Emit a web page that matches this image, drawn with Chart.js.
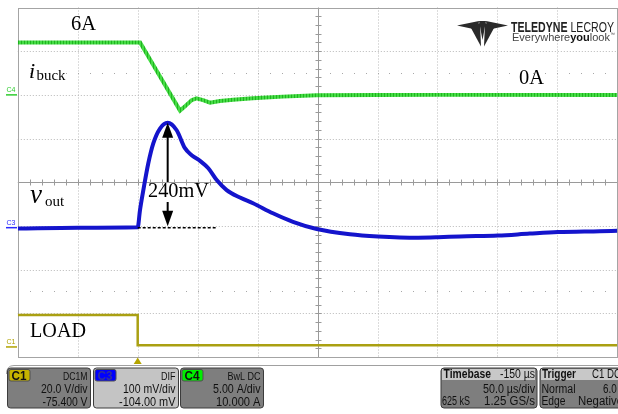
<!DOCTYPE html>
<html>
<head>
<meta charset="utf-8">
<script src="https://cdn.jsdelivr.net/npm/chart.js@4.4.1/dist/chart.umd.min.js"></script>
<style>
  html, body { margin: 0; padding: 0; background: #fff; overflow: hidden; }
  canvas { display: block; }
</style>
</head>
<body>
<canvas id="scope" width="618" height="414"></canvas>
<script>
// ---- Acquisition: 50 µs/div, 10 x 8 divisions, trigger at t = 0 ----
const timeDivUs = 50;
const timeStartUs = -100;
const hDivs = 10;
const vDivs = 8;

// C4: buck inductor current, A
const iBuckTimeUs = [-100, 2, 35.3, 39.5, 45, 49, 54.5, 60.3, 68.6, 79.5, 96, 121, 149, 200, 250, 400];
const iBuckAmps   = [6.0, 6.0, -1.8, -1.3, -0.6, -0.4, -0.6, -0.9, -0.7, -0.55, -0.38, -0.2, -0.05, -0.02, 0, 0];

// C3: output voltage deviation, mV
const voutTimeUs = [-100, -50, 0, 1.9, 4.7, 8.8, 13, 18.6, 25, 32.5, 39.4, 45, 52, 58.9, 65.9, 74.2, 85.3, 96.2,
                    112.8, 129.5, 149.3, 177, 200.4, 233.8, 250.5, 268.8, 300.5, 327, 350.5, 385.5, 400];
const voutMv     = [-2, 0, 1, 40, 86, 147, 193, 227, 240, 223, 182, 166, 153, 136, 109, 86, 69, 56,
                    33, 13.5, -3, -15, -20, -23, -22, -20, -18, -13.5, -10, -8, -7];

// C1: load step command, V
const loadTimeUs = [-100, 0, 0, 400];
const loadVolts  = [14.6, 14.6, 0.8, 0.8];

// Overshoot marker
const overshootMv = 240;
const overshootAtUs = 25;

// Channel settings (per-division scale and offset)
const c1Set = { scale: 20, offset: -75.4 };
const c3Set = { scale: 100, offset: -104 };
const c4Set = { scale: 5, offset: 10 };

// Readout text
const c1Info = ['DC1M', '20.0 V/div', '-75.400 V'];
const c3Info = ['DIF', '100 mV/div', '-104.00 mV'];
const c4Info = ['BwL DC', '5.00 A/div', '10.000 A'];
const timebaseInfo = ['Timebase', '-150 µs', '50.0 µs/div', '625 kS', '1.25 GS/s'];
const triggerInfo = ['Trigger', 'C1 DC', 'Normal', '6.0 V', 'Edge', 'Negative'];

function axisRange(set) {
  const centre = -set.offset;
  return { min: centre - set.scale * vDivs / 2, max: centre + set.scale * vDivs / 2 };
}
function pts(xs, ys) { return xs.map((x, i) => ({ x: x, y: ys[i] })); }

const SERIF = "'Liberation Serif', 'Times New Roman', serif";
const SANS = "'Liberation Sans', Arial, sans-serif";

// text with optional horizontal fit to a width
function put(ctx, s, x, y, o) {
  ctx.save();
  ctx.font = o.font;
  ctx.fillStyle = o.color || '#111';
  ctx.textAlign = 'left';
  ctx.textBaseline = 'alphabetic';
  const w = ctx.measureText(s).width;
  const k = o.width ? o.width / w : 1;
  let left = x;
  if (o.align === 'right') left = x - w * k;
  else if (o.align === 'center') left = x - w * k / 2;
  ctx.translate(left, y);
  ctx.scale(k, 1);
  ctx.fillText(s, 0, 0);
  ctx.restore();
}

function seg(ctx, x1, y1, x2, y2) {
  ctx.beginPath(); ctx.moveTo(x1, y1); ctx.lineTo(x2, y2); ctx.stroke();
}

// striped stroke that gives the switching-ripple texture on the current trace
function rippleStroke() {
  const c = document.createElement('canvas');
  c.width = 3; c.height = 1;
  const g = c.getContext('2d');
  g.fillStyle = '#1fb51f'; g.fillRect(0, 0, 1, 1);
  g.fillStyle = '#45dc45'; g.fillRect(1, 0, 2, 1);
  return g.createPattern(c, 'repeat');
}

// ---- graticule ----
const graticule = {
  id: 'graticule',
  beforeDraw(chart) {
    const ctx = chart.ctx;
    ctx.save();
    ctx.fillStyle = '#fff';
    ctx.fillRect(0, 0, chart.width, chart.height);
    ctx.restore();
  },
  beforeDatasetsDraw(chart) {
    const { ctx, chartArea: a, scales } = chart;
    const x = scales.x, d = scales.yDiv;
    const cx = Math.round(x.getPixelForValue(timeStartUs + timeDivUs * hDivs / 2)) + 0.5;
    const cy = Math.round(d.getPixelForValue(0)) + 0.5;
    ctx.save();
    ctx.lineWidth = 1;
    // dotted division lines
    ctx.strokeStyle = '#b8b8b8';
    ctx.setLineDash([1, 2]);
    for (let i = 1; i < hDivs; i++) {
      if (i === hDivs / 2) continue;
      const px = Math.round(x.getPixelForValue(timeStartUs + i * timeDivUs)) + 0.5;
      seg(ctx, px, a.top, px, a.bottom);
    }
    for (let j = -vDivs / 2 + 1; j < vDivs / 2; j++) {
      if (j === 0) continue;
      const py = Math.round(d.getPixelForValue(j)) + 0.5;
      seg(ctx, a.left, py, a.right, py);
    }
    ctx.setLineDash([]);
    // sparse dots at ±2.5 div
    ctx.fillStyle = '#a8a8a8';
    [2.5, -2.5].forEach(v => {
      const py = Math.round(d.getPixelForValue(v));
      for (let k = 1; k < hDivs * 5; k++) {
        const px = Math.round(x.getPixelForValue(timeStartUs + k * timeDivUs / 5));
        ctx.fillRect(px, py, 1, 1);
      }
    });
    // centre cross with minor ticks
    ctx.strokeStyle = '#9a9a9a';
    seg(ctx, a.left, cy, a.right, cy);
    seg(ctx, cx, a.top, cx, a.bottom);
    for (let k = 1; k < hDivs * 5; k++) {
      const px = Math.round(x.getPixelForValue(timeStartUs + k * timeDivUs / 5)) + 0.5;
      seg(ctx, px, cy - 3, px, cy + 3);
    }
    for (let k = 1; k < vDivs * 5; k++) {
      const py = Math.round(d.getPixelForValue(-vDivs / 2 + k / 5)) + 0.5;
      seg(ctx, cx - 3, py, cx + 3, py);
    }
    // frame
    ctx.strokeStyle = '#a4a4a4';
    ctx.strokeRect(Math.round(a.left) + 0.5, Math.round(a.top) + 0.5,
                   Math.round(a.right) - Math.round(a.left), Math.round(a.bottom) - Math.round(a.top));
    ctx.restore();
  }
};

// ---- annotations on the traces ----
const markup = {
  id: 'markup',
  afterDatasetsDraw(chart) {
    const { ctx, scales } = chart;
    const x = scales.x, yV = scales.yV, yI = scales.yI, yL = scales.yL;
    ctx.save();

    // overshoot baseline
    const y0 = yV.getPixelForValue(0);
    ctx.strokeStyle = '#000';
    ctx.lineWidth = 1.5;
    ctx.setLineDash([3, 2]);
    seg(ctx, x.getPixelForValue(0), y0, x.getPixelForValue(65), y0);
    ctx.setLineDash([]);

    // double arrow for the overshoot
    const ax = x.getPixelForValue(overshootAtUs);
    const yTop = yV.getPixelForValue(overshootMv);
    ctx.fillStyle = '#000';
    ctx.lineWidth = 2;
    ctx.beginPath();
    ctx.moveTo(ax, yTop); ctx.lineTo(ax - 5.5, yTop + 15); ctx.lineTo(ax + 5.5, yTop + 15); ctx.closePath(); ctx.fill();
    seg(ctx, ax, yTop + 12, ax, 182);
    seg(ctx, ax, 202, ax, y0 - 14);
    ctx.beginPath();
    ctx.moveTo(ax, y0 - 1.5); ctx.lineTo(ax - 5.5, y0 - 17); ctx.lineTo(ax + 5.5, y0 - 17); ctx.closePath(); ctx.fill();

    put(ctx, overshootMv + 'mV', 148, 197, { font: '20px ' + SERIF, color: '#000', width: 61 });

    // trace labels
    put(ctx, '6A', 71, 30, { font: '20px ' + SERIF, color: '#000', width: 25 });
    put(ctx, '0A', 519, 84, { font: '20px ' + SERIF, color: '#000', width: 25 });
    put(ctx, 'i', 29, 78, { font: 'italic 22px ' + SERIF, color: '#000' });
    put(ctx, 'buck', 36.5, 80, { font: '15px ' + SERIF, color: '#000', width: 29 });
    put(ctx, 'v', 30, 203, { font: 'italic 27px ' + SERIF, color: '#000' });
    put(ctx, 'out', 45, 206, { font: '15px ' + SERIF, color: '#000' });
    put(ctx, 'LOAD', 30, 337, { font: '21px ' + SERIF, color: '#000', width: 56 });

    // channel ground markers at the left edge
    const marks = [
      ['C4', yI.getPixelForValue(0), '#2ecc2e'],
      ['C3', yV.getPixelForValue(0), '#2a2aff'],
      ['C1', yL.getPixelForValue(0), '#b0a200']
    ];
    marks.forEach(m => {
      ctx.strokeStyle = m[2];
      ctx.lineWidth = 1.5;
      seg(ctx, 6, m[1], 17, m[1]);
      put(ctx, m[0], 6.5, m[1] - 3, { font: '7px ' + SANS, color: m[2], width: 9 });
    });

    // trigger position marker
    const tx = x.getPixelForValue(0);
    ctx.fillStyle = '#b4a400';
    ctx.beginPath();
    ctx.moveTo(tx, 357.5); ctx.lineTo(tx - 4, 364); ctx.lineTo(tx + 4, 364); ctx.closePath(); ctx.fill();
    ctx.restore();
  }
};

// ---- readout panels and maker mark ----
function box(ctx, x, y, w, h, fill) {
  ctx.beginPath();
  ctx.roundRect(x + 0.5, y + 0.5, w, h, 3);
  ctx.fillStyle = fill; ctx.fill();
  ctx.strokeStyle = '#3c3c3c'; ctx.lineWidth = 1; ctx.stroke();
}

function channelBox(ctx, x, fill, tabFill, tabText, tabColor, info, right, widths) {
  box(ctx, x, 367.5, right - x + 2.5, 40, fill);
  ctx.beginPath();
  ctx.roundRect(x + 2, 369.5, 21, 11.5, 2);
  ctx.fillStyle = tabFill; ctx.fill();
  ctx.strokeStyle = '#505050'; ctx.stroke();
  put(ctx, tabText, x + 4.5, 379.5, { font: 'bold 12px ' + SANS, color: tabColor, width: 15 });
  put(ctx, info[0], right, 379.5, { font: '11px ' + SANS, align: 'right', width: widths[0] });
  put(ctx, info[1], right, 393, { font: '12px ' + SANS, align: 'right', width: widths[1] });
  put(ctx, info[2], right, 405.5, { font: '12px ' + SANS, align: 'right', width: widths[2] });
}

function logo(ctx) {
  ctx.save();
  ctx.fillStyle = '#2a2a2a';
  const tri = p => { ctx.beginPath(); ctx.moveTo(p[0], p[1]); ctx.lineTo(p[2], p[3]); ctx.lineTo(p[4], p[5]); ctx.closePath(); ctx.fill(); };
  tri([457, 25.5, 479, 21, 478, 30]);
  tri([508, 25.5, 486, 21, 487, 30]);
  tri([471, 28, 480, 23, 481, 46.5]);
  tri([494, 28, 485, 23, 484, 46.5]);
  tri([479, 21, 486, 21, 482.5, 40]);
  // word mark
  ctx.font = 'bold 14px ' + SANS;
  const w1 = ctx.measureText('TELEDYNE').width;
  ctx.font = '14px ' + SANS;
  const w2 = ctx.measureText(' LECROY').width;
  const k = 103 / (w1 + w2);
  ctx.translate(511, 31.5);
  ctx.scale(k, 1);
  ctx.fillStyle = '#222';
  ctx.font = 'bold 14px ' + SANS; ctx.fillText('TELEDYNE', 0, 0);
  ctx.font = '14px ' + SANS; ctx.fillText(' LECROY', w1, 0);
  ctx.restore();

  ctx.save();
  ctx.font = '11px ' + SANS;
  const e1 = ctx.measureText('Everywhere').width;
  ctx.font = 'bold 11px ' + SANS;
  const e2 = ctx.measureText('you').width;
  ctx.font = '11px ' + SANS;
  const e3 = ctx.measureText('look').width;
  const k2 = 98 / (e1 + e2 + e3);
  ctx.translate(512, 40.5);
  ctx.scale(k2, 1);
  ctx.fillStyle = '#444';
  ctx.font = '11px ' + SANS; ctx.fillText('Everywhere', 0, 0);
  ctx.fillStyle = '#111';
  ctx.font = 'bold 11px ' + SANS; ctx.fillText('you', e1, 0);
  ctx.fillStyle = '#444';
  ctx.font = '11px ' + SANS; ctx.fillText('look', e1 + e2, 0);
  ctx.font = '5px ' + SANS; ctx.fillText('™', e1 + e2 + e3, -5);
  ctx.restore();
}

const panels = {
  id: 'panels',
  afterDraw(chart) {
    const ctx = chart.ctx;
    ctx.save();
    // tray outline
    ctx.strokeStyle = '#a0a0a0';
    ctx.lineWidth = 1;
    ctx.beginPath();
    ctx.moveTo(6.5, 374);
    ctx.quadraticCurveTo(6.5, 365.5, 14, 365.5);
    ctx.lineTo(618, 365.5);
    ctx.stroke();

    channelBox(ctx, 7, '#7e7e7e', '#c6b400', 'C1', '#111', c1Info, 87.5, [24.5, 46.5, 45]);
    channelBox(ctx, 93, '#c4c4c4', '#0000ff', 'C3', '#3030a0', c3Info, 175.5, [14.5, 52.5, 56.5]);
    channelBox(ctx, 180, '#7e7e7e', '#00ee00', 'C4', '#111', c4Info, 260.5, [33, 47.5, 44.5]);

    // timebase
    box(ctx, 440.5, 367.5, 96, 40, '#7e7e7e');
    ctx.fillStyle = '#c8c8c8';
    ctx.fillRect(442, 369, 93, 11);
    put(ctx, timebaseInfo[0], 443.5, 377.5, { font: 'bold 12px ' + SANS, color: '#111', width: 47.5 });
    put(ctx, timebaseInfo[1], 535, 377.5, { font: '12px ' + SANS, color: '#111', align: 'right', width: 35 });
    put(ctx, timebaseInfo[2], 535, 392.5, { font: '12px ' + SANS, color: '#111', align: 'right', width: 52 });
    put(ctx, timebaseInfo[3], 442, 404.5, { font: '12px ' + SANS, color: '#111', width: 28 });
    put(ctx, timebaseInfo[4], 535, 404.5, { font: '12px ' + SANS, color: '#111', align: 'right', width: 51 });

    // trigger
    box(ctx, 539.5, 367.5, 90, 40, '#7e7e7e');
    ctx.fillStyle = '#c8c8c8';
    ctx.fillRect(541, 369, 90, 11);
    put(ctx, triggerInfo[0], 542, 377.5, { font: 'bold 12px ' + SANS, color: '#111', width: 34 });
    put(ctx, triggerInfo[1], 592, 377.5, { font: '12px ' + SANS, color: '#111', width: 29 });
    put(ctx, triggerInfo[2], 541.5, 392.5, { font: '12px ' + SANS, color: '#111', width: 34 });
    put(ctx, triggerInfo[3], 603, 392.5, { font: '12px ' + SANS, color: '#111', width: 23 });
    put(ctx, triggerInfo[4], 541.5, 404.5, { font: '12px ' + SANS, color: '#111', width: 24 });
    put(ctx, triggerInfo[5], 578, 404.5, { font: '12px ' + SANS, color: '#111', width: 45 });

    logo(ctx);
    ctx.restore();
  }
};

const rI = axisRange(c4Set), rV = axisRange(c3Set), rL = axisRange(c1Set);

new Chart(document.getElementById('scope'), {
  type: 'line',
  data: {
    datasets: [
      {
        label: 'i_buck',
        data: pts(iBuckTimeUs, iBuckAmps),
        yAxisID: 'yI',
        borderColor: rippleStroke(),
        borderWidth: 4,
        pointRadius: 0,
        tension: 0
      },
      {
        label: 'v_out',
        data: pts(voutTimeUs, voutMv),
        yAxisID: 'yV',
        borderColor: '#1414cc',
        borderWidth: 4,
        pointRadius: 0,
        cubicInterpolationMode: 'monotone'
      },
      {
        label: 'LOAD',
        data: pts(loadTimeUs, loadVolts),
        yAxisID: 'yL',
        borderColor: '#aaa012',
        borderWidth: 2.5,
        pointRadius: 0,
        tension: 0
      }
    ]
  },
  options: {
    responsive: false,
    animation: false,
    devicePixelRatio: 1,
    layout: { padding: { left: 17.8, top: 7.5, right: 0.7, bottom: 57 } },
    plugins: { legend: { display: false }, tooltip: { enabled: false } },
    scales: {
      x: { type: 'linear', axis: 'x', display: false, min: timeStartUs, max: timeStartUs + timeDivUs * hDivs },
      yDiv: { type: 'linear', axis: 'y', display: false, min: -vDivs / 2, max: vDivs / 2 },
      yI: { type: 'linear', axis: 'y', display: false, min: rI.min, max: rI.max },
      yV: { type: 'linear', axis: 'y', display: false, min: rV.min, max: rV.max },
      yL: { type: 'linear', axis: 'y', display: false, min: rL.min, max: rL.max }
    }
  },
  plugins: [graticule, markup, panels]
});
</script>
</body>
</html>
